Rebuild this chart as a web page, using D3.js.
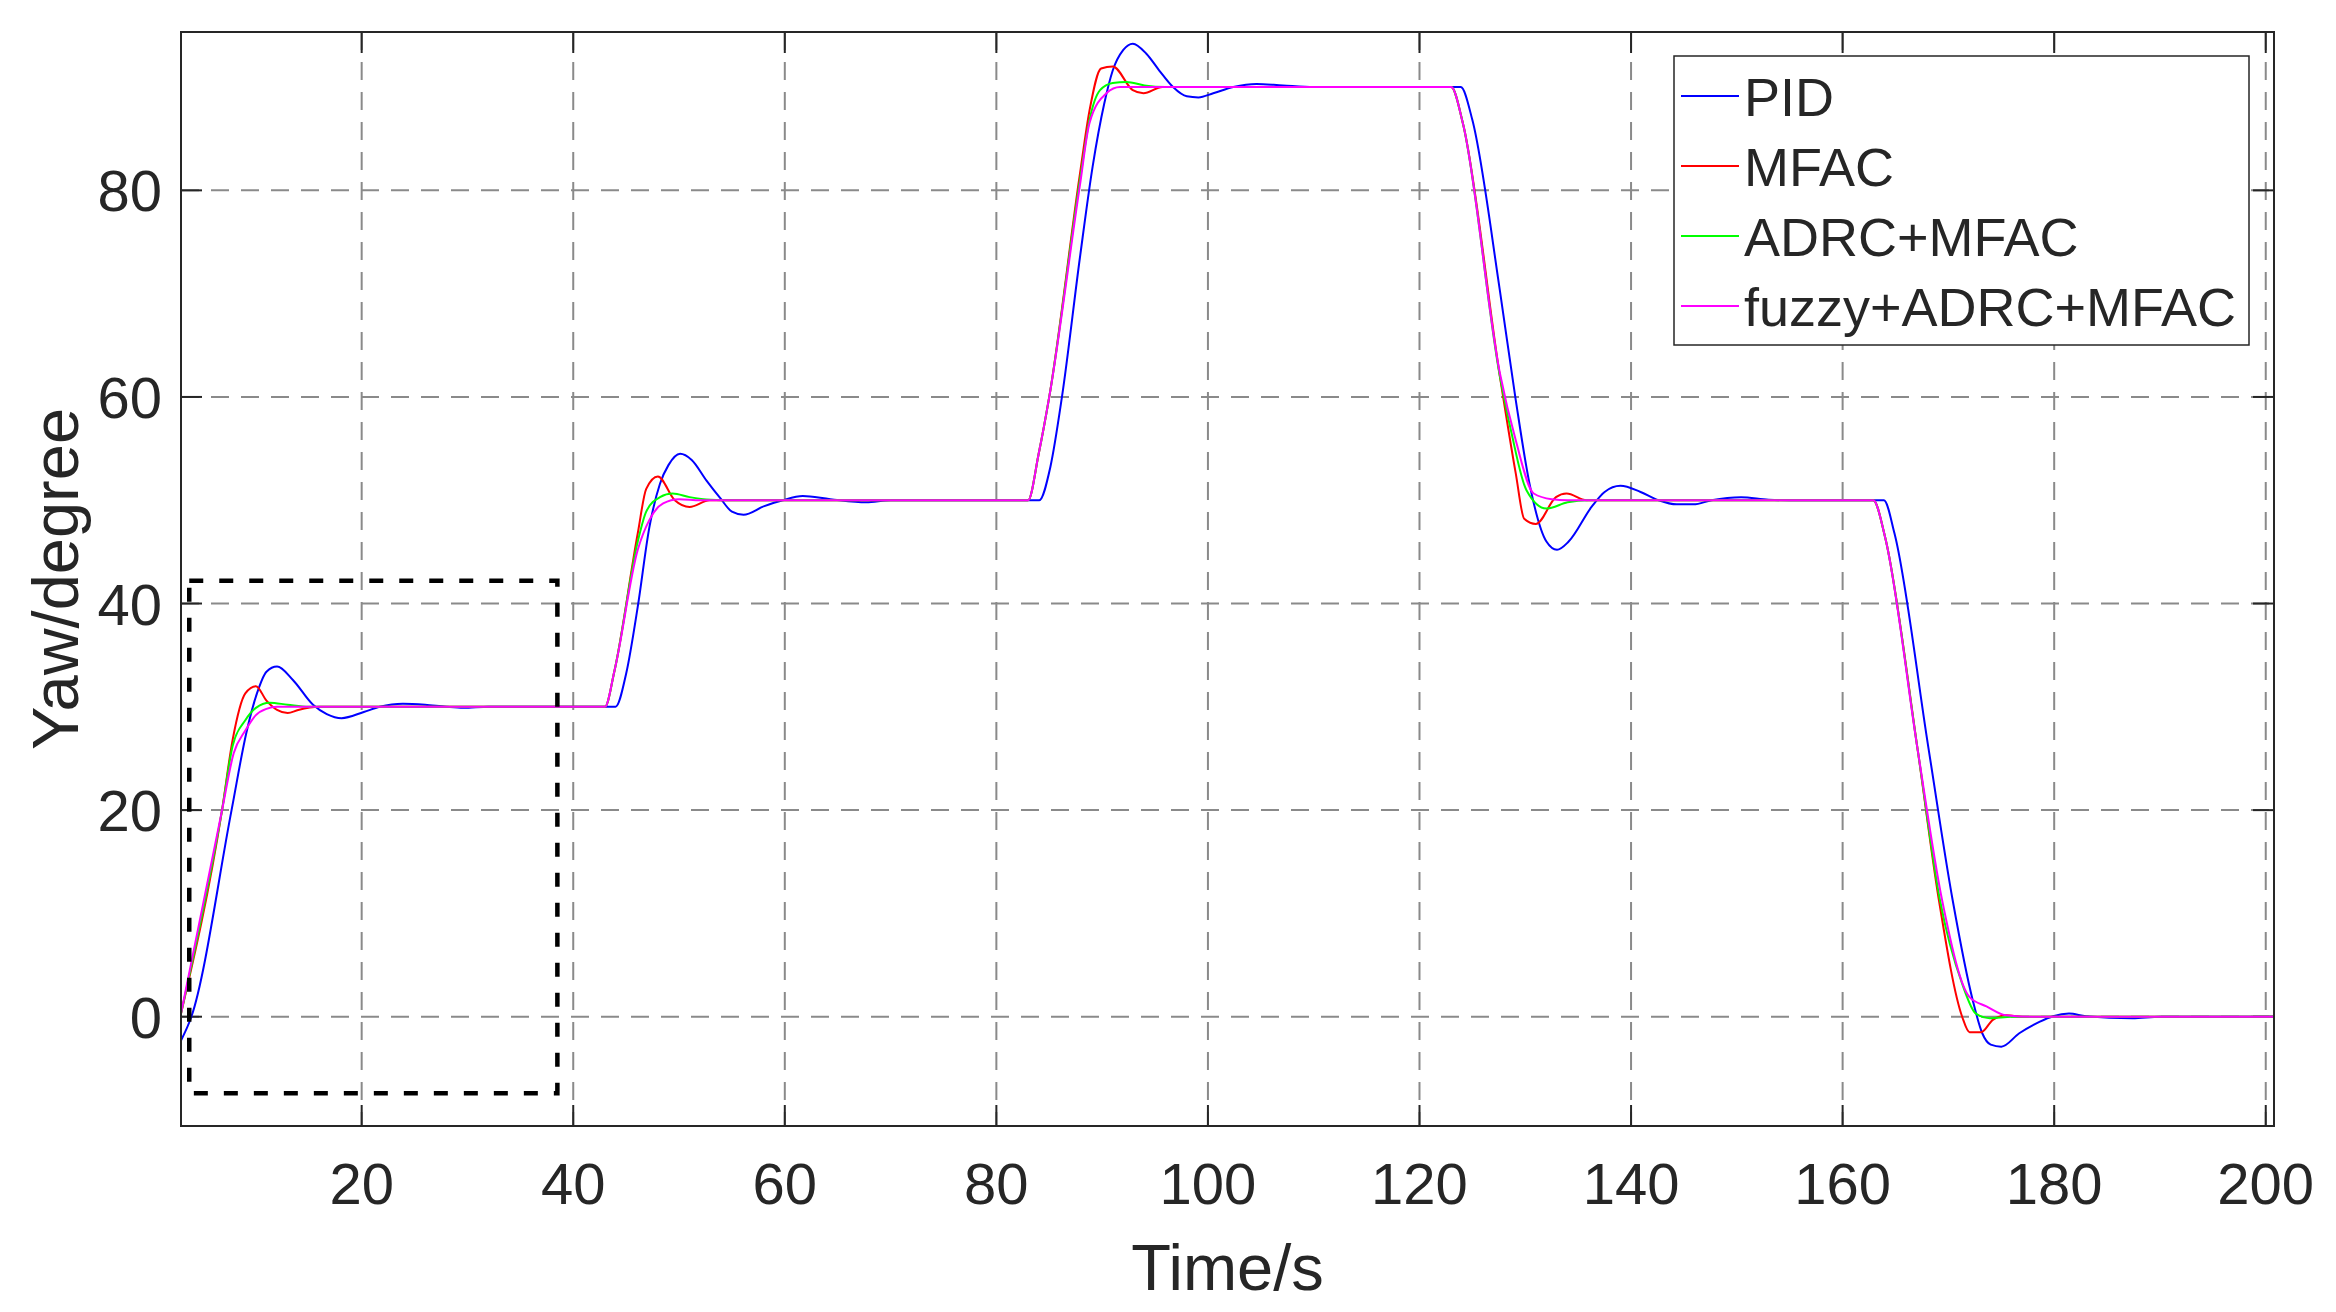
<!DOCTYPE html>
<html>
<head>
<meta charset="utf-8">
<script src="https://cdn.jsdelivr.net/npm/d3@7"></script>
<style>
  body { margin: 0; background: #fff; }
  text { font-family: Arial, "Liberation Sans", sans-serif; fill: #262626; }
</style>
</head>
<body>
<script>
const WIDTH = 2336
const HEIGHT = 1312

// axis ranges (time in s, yaw in degree)
const xDomain = [2.92, 200.78]
const yDomain = [-10.58, 95.33]
const xTicks = [20, 40, 60, 80, 100, 120, 140, 160, 180, 200]
const yTicks = [0, 20, 40, 60, 80]

const seriesNames = ["PID", "MFAC", "ADRC+MFAC", "fuzzy+ADRC+MFAC"]
const seriesColors = ["#0000ff", "#ff0000", "#00ff00", "#ff00ff"]

// [time, yaw]
const pidData = [
  [2.92,-2.3],[3.9,0],[7.7,20],[9.1,27.5],[10.1,31.3],[11,33.4],[12,33.9],[13.5,32.6],[15.4,30.2],[16.7,29.3],
  [18.1,28.9],[20.2,29.5],[21.7,30.0],[23.9,30.3],[26,30.2],[28,30],[29.6,29.9],[32,30],
  [44,30],[45,33.2],[46.1,39.7],[47.2,47.4],[48.2,51.6],[49,53.4],[50.1,54.5],[51.2,53.9],[52.6,51.9],[53.9,50.2],
  [55,48.9],[56.1,48.6],[58,49.4],[59.8,50],[61.7,50.4],[64.3,50.1],[67.7,49.8],[70,50],
  [84.05,50],[85.1,53.2],[86.2,60],[87.9,73.5],[89.1,82.3],[90.2,88.4],[91,91.6],[92,93.6],[92.9,94.2],[94.2,93.2],
  [95.4,91.6],[96.7,90],[98,89.1],[99.1,89],[100.5,89.4],[102.4,90],[104.6,90.3],[107.1,90.15],[110,90],
  [123.9,90],[125,86.8],[127.6,70.3],[129.1,59.7],[130.4,51.6],[132,46],[133,45.2],[134.1,46],[136.3,49.4],[137.5,50.8],
  [139,51.4],[140.9,50.8],[142.6,50],[144.3,49.6],[145.9,49.6],[147.6,50],[150.4,50.3],[153,50.05],[155,50],
  [163.9,50],[164.9,46.8],[168.1,26.1],[170.4,11.3],[172.3,1.6],[173.2,-1.6],[174,-2.7],[175,-2.9],[176.7,-1.6],
  [178.6,-0.5],[179.9,0.05],[181.4,0.3],[183,0.05],[187.4,-0.15],[190,0],[200.8,0]
]
const mfacData = [
  [2.92,0.3],[6.8,20],[7.8,26.8],[9,31.3],[10,32],[11,30.6],[12,29.7],[13,29.4],[14,29.7],[16,30],
  [43,30],[43.9,33.5],[46.1,46.8],[46.9,51.1],[48,52.3],[49.6,50],[51,49.35],[52.9,50],
  [83,50],[84,54.5],[85,60],[87.9,81.6],[88.8,87.7],[89.9,91.8],[91,92],[92.9,89.7],[93.9,89.4],[95.7,90],
  [123,90],[124.1,86.5],[127.6,62],[129.1,52.6],[129.9,48.2],[131,47.7],[132.9,50.3],[133.9,50.65],[135.8,50],
  [162.9,50],[164,46.5],[167.1,25.8],[169.1,11.3],[171.3,0],[172,-1.5],[173.1,-1.5],[174.2,-0.3],[175.5,0.15],[177,0],[200.8,0]
]
const adrcData = [
  [2.92,0.3],[6.8,20],[7.8,26.2],[9,28.7],[10,29.9],[11.3,30.4],[13,30.2],[15,30],
  [43,30],[43.9,33.5],[46.1,46],[46.9,48.9],[48.2,50.3],[49.4,50.65],[51,50.3],[53,50.05],[55,50],
  [83,50],[84,54.5],[85,60],[87.9,81],[88.8,86.8],[89.8,89.7],[91,90.4],[92.3,90.5],[94,90.15],[96,90],
  [123,90],[124.1,86.5],[127.6,62],[128.7,56.5],[130.1,51],[132,49.2],[134,49.8],[136,50],
  [162.9,50],[164,46.5],[167.1,25.8],[169.2,11.3],[171.3,3.2],[172.6,0.3],[173.9,-0.15],[176,0],[200.8,0]
]
const fuzzyData = [
  [2.92,0.3],[6.8,20],[7.9,25.5],[9,27.7],[10,29.2],[11,29.8],[12,30],
  [43,30],[43.9,33.5],[46.1,45.2],[47.2,48.1],[48.5,49.7],[50,50.1],[52,50],
  [83,50],[84,54.5],[85,60],[87.9,80.5],[88.8,86.5],[90.4,89.4],[91.7,90],
  [123,90],[124.1,86.5],[127.6,62.3],[129.1,55.8],[130.8,50.65],[132.5,50.1],[134,50],
  [162.9,50],[164,46.5],[167.1,25.8],[169.4,11.3],[172,1.9],[173.6,1.0],[175.4,0.15],[178,0],[200.8,0]
]
const allSeries = [pidData, mfacData, adrcData, fuzzyData]

// dashed box marking the first step (time from/to, yaw from/to)
const boxTime = [3.7, 38.5]
const boxYaw = [-7.4, 42.2]

var margin = {left: 181, right: 2274, top: 32, bottom: 1126}

var x = d3.scaleLinear().domain(xDomain).range([margin.left, margin.right])
var y = d3.scaleLinear().domain(yDomain).range([margin.bottom, margin.top])

var svg = d3.select("body").append("svg")
    .attr("width", WIDTH)
    .attr("height", HEIGHT)

svg.append("defs").append("clipPath").attr("id", "plotclip")
  .append("rect")
    .attr("x", margin.left).attr("y", margin.top)
    .attr("width", margin.right - margin.left)
    .attr("height", margin.bottom - margin.top)

// grid
var grid = svg.append("g")
grid.selectAll(".vgrid").data(xTicks).enter().append("line")
    .attr("x1", d => x(d)).attr("x2", d => x(d))
    .attr("y1", margin.top).attr("y2", margin.bottom)
    .attr("stroke", "#8a8a8a").attr("stroke-width", 2)
    .attr("stroke-dasharray", "18,12")
grid.selectAll(".hgrid").data(yTicks).enter().append("line")
    .attr("y1", d => y(d)).attr("y2", d => y(d))
    .attr("x1", margin.left).attr("x2", margin.right)
    .attr("stroke", "#8a8a8a").attr("stroke-width", 2)
    .attr("stroke-dasharray", "18,12")

// ticks on all four sides, pointing inward
var tickLen = 21
var axes = svg.append("g").attr("stroke", "#262626").attr("stroke-width", 2)
xTicks.forEach(function(t) {
  axes.append("line").attr("x1", x(t)).attr("x2", x(t)).attr("y1", margin.bottom).attr("y2", margin.bottom - tickLen)
  axes.append("line").attr("x1", x(t)).attr("x2", x(t)).attr("y1", margin.top).attr("y2", margin.top + tickLen)
})
yTicks.forEach(function(v) {
  axes.append("line").attr("y1", y(v)).attr("y2", y(v)).attr("x1", margin.left).attr("x2", margin.left + tickLen)
  axes.append("line").attr("y1", y(v)).attr("y2", y(v)).attr("x1", margin.right).attr("x2", margin.right - tickLen)
})

// response curves
var line = d3.line().x(d => x(d[0])).y(d => y(d[1])).curve(d3.curveMonotoneX)
var curves = svg.append("g").attr("clip-path", "url(#plotclip)")
curves.selectAll("path").data(allSeries).enter().append("path")
    .attr("d", line)
    .attr("fill", "none")
    .attr("stroke", (d, i) => seriesColors[i])
    .attr("stroke-width", 2)
    .attr("stroke-linejoin", "round")

// dashed black box
svg.append("rect")
    .attr("x", x(boxTime[0]))
    .attr("y", y(boxYaw[1]))
    .attr("width", x(boxTime[1]) - x(boxTime[0]))
    .attr("height", y(boxYaw[0]) - y(boxYaw[1]))
    .attr("fill", "none")
    .attr("stroke", "#000")
    .attr("stroke-width", 4.5)
    .attr("stroke-dasharray", "14,16")

// axes box
svg.append("rect")
    .attr("x", margin.left).attr("y", margin.top)
    .attr("width", margin.right - margin.left)
    .attr("height", margin.bottom - margin.top)
    .attr("fill", "none").attr("stroke", "#262626").attr("stroke-width", 2)

// tick labels
svg.selectAll(".xlab").data(xTicks).enter().append("text")
    .attr("x", d => x(d)).attr("y", 1204)
    .attr("text-anchor", "middle")
    .attr("font-size", 58)
    .text(d => d)
svg.selectAll(".ylab").data(yTicks).enter().append("text")
    .attr("x", 162).attr("y", d => y(d) + 21)
    .attr("text-anchor", "end")
    .attr("font-size", 58)
    .text(d => d)

// axis titles
svg.append("text")
    .attr("x", (margin.left + margin.right) / 2).attr("y", 1290)
    .attr("text-anchor", "middle")
    .attr("font-size", 65)
    .text("Time/s")
svg.append("text")
    .attr("transform", "translate(78," + ((margin.top + margin.bottom) / 2) + ") rotate(-90)")
    .attr("text-anchor", "middle")
    .attr("font-size", 65)
    .text("Yaw/degree")

// legend
var legend = svg.append("g")
legend.append("rect")
    .attr("x", 1674).attr("y", 56)
    .attr("width", 575).attr("height", 289)
    .attr("fill", "#fff").attr("stroke", "#262626").attr("stroke-width", 1.5)
seriesNames.forEach(function(name, i) {
  var rowY = 96 + i * 70
  legend.append("line")
      .attr("x1", 1681).attr("x2", 1739)
      .attr("y1", rowY).attr("y2", rowY)
      .attr("stroke", seriesColors[i]).attr("stroke-width", 2)
  legend.append("text")
      .attr("x", 1744).attr("y", rowY + 20)
      .attr("font-size", 54)
      .text(name)
})
</script>
</body>
</html>
